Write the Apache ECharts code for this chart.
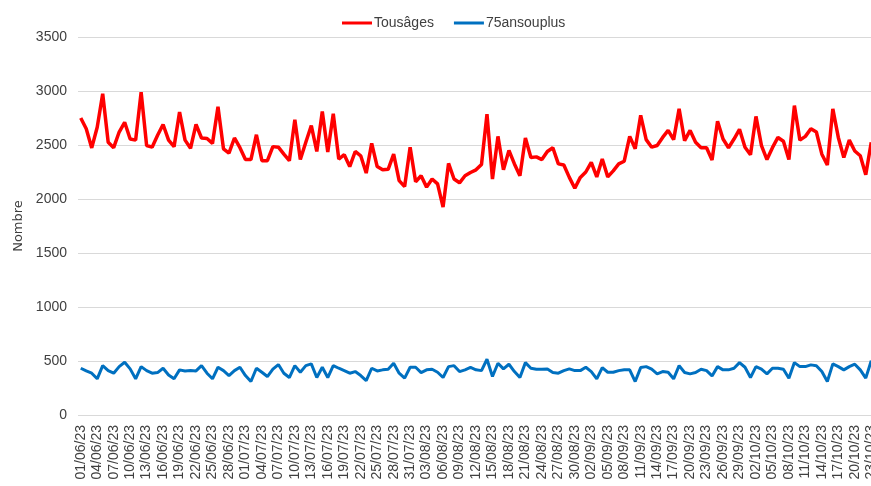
<!DOCTYPE html>
<html>
<head>
<meta charset="utf-8">
<script src="https://cdn.jsdelivr.net/npm/echarts@6/dist/echarts.min.js"></script>
<style>
  html, body { margin: 0; padding: 0; background: #fff; }
  #chart { width: 871px; height: 486px; }
</style>
</head>
<body>
<div id="chart"></div>
<script>
var myChart = echarts.init(document.getElementById('chart'));

// jours du 01/06/23 au 23/10/23
var firstDay = new Date(2023, 5, 1);
var nbDays = 145;
var dates = [];
for (var d = 0; d < nbDays; d++) {
    var dt = new Date(firstDay.getFullYear(), firstDay.getMonth(), firstDay.getDate() + d);
    var dd = ('0' + dt.getDate()).slice(-2);
    var mm = ('0' + (dt.getMonth() + 1)).slice(-2);
    dates.push(dd + '/' + mm + '/23');
}

var tousAges = [
    2750, 2650, 2473, 2665, 2975, 2525, 2475, 2620, 2710, 2555,
    2545, 2990, 2495, 2480, 2590, 2690, 2545, 2485, 2805, 2545,
    2470, 2690, 2565, 2560, 2515, 2855, 2465, 2425, 2565, 2475,
    2365, 2365, 2595, 2355, 2355, 2485, 2480, 2415, 2355, 2735,
    2365, 2525, 2680, 2440, 2810, 2435, 2790, 2370, 2410, 2300,
    2440, 2400, 2240, 2515, 2300, 2270, 2275, 2415, 2170, 2115,
    2480, 2160, 2215, 2110, 2185, 2140, 1925, 2330, 2185, 2150,
    2215, 2245, 2270, 2320, 2785, 2185, 2580, 2270, 2450, 2325,
    2215, 2565, 2385, 2390, 2365, 2440, 2475, 2325, 2315, 2200,
    2100, 2200, 2250, 2340, 2205, 2370, 2205, 2260, 2325, 2350,
    2580, 2465, 2775, 2550, 2480, 2495, 2570, 2635, 2550, 2835,
    2540, 2635, 2525, 2475, 2475, 2360, 2720, 2555, 2475, 2555,
    2645, 2480, 2410, 2765, 2495, 2365, 2475, 2570, 2535, 2365,
    2865, 2545, 2580, 2650, 2620, 2415, 2315, 2835, 2570, 2385,
    2545, 2445, 2400, 2225, 2525
];

var ansOuPlus75 = [
    433, 408, 387, 335, 457, 411, 387, 448, 488, 427,
    335, 448, 411, 387, 393, 433, 371, 335, 418, 408,
    411, 408, 457, 387, 335, 442, 411, 365, 411, 442,
    365, 310, 433, 396, 356, 424, 467, 387, 347, 457,
    396, 457, 473, 347, 442, 347, 457, 433, 411, 387,
    402, 365, 319, 433, 408, 418, 424, 479, 387, 341,
    442, 442, 393, 418, 424, 396, 347, 448, 457, 402,
    418, 440, 418, 411, 516, 356, 479, 427, 470, 402,
    347, 485, 433, 424, 424, 427, 393, 387, 411, 427,
    411, 411, 442, 402, 335, 439, 396, 396, 411, 418,
    418, 310, 439, 448, 424, 381, 402, 396, 335, 457,
    393, 381, 393, 424, 411, 362, 448, 418, 418, 433,
    485, 442, 347, 448, 424, 381, 433, 433, 424, 341,
    485, 448, 448, 464, 457, 402, 310, 473, 448, 418,
    448, 470, 418, 341, 503
];

var seriesNames = ['Tousâges', '75ansouplus'];
var seriesColors = ['#ff0000', '#0070c0'];

var option = {
    animation: false,
    backgroundColor: '#ffffff',
    textStyle: { fontFamily: 'Liberation Sans' },
    legend: {
        top: 11,
        left: 337,
        itemWidth: 30,
        itemHeight: 3,
        itemGap: 20,
        icon: 'rect',
        textStyle: { color: '#404040', fontSize: 14, fontFamily: 'Liberation Sans', padding: [0, 0, 0, -3] },
        data: seriesNames
    },
    grid: {
        left: 78,
        right: -3,
        top: 37,
        bottom: 71,
        containLabel: false,
        outerBoundsMode: 'none'
    },
    xAxis: {
        type: 'category',
        data: dates,
        boundaryGap: true,
        axisLine: { show: false },
        axisTick: { show: false },
        axisLabel: {
            interval: 2,
            rotate: 90,
            color: '#404040',
            fontSize: 14,
            margin: 10
        }
    },
    yAxis: {
        type: 'value',
        min: 0,
        max: 3500,
        interval: 500,
        name: 'Nombre',
        nameLocation: 'middle',
        nameGap: 53,
        nameTextStyle: { color: '#404040', fontSize: 13, fontFamily: 'DejaVu Sans' },
        axisLine: { show: false },
        axisTick: { show: false },
        axisLabel: {
            color: '#404040',
            fontSize: 14,
            margin: 11,
            formatter: function (v) { return String(v); }
        },
        splitLine: { lineStyle: { color: '#d9d9d9', width: 1 } }
    },
    series: [
        {
            name: seriesNames[0],
            type: 'line',
            data: tousAges,
            symbol: 'none',
            color: seriesColors[0],
            lineStyle: { width: 3.5, color: seriesColors[0] }
        },
        {
            name: seriesNames[1],
            type: 'line',
            data: ansOuPlus75,
            symbol: 'none',
            color: seriesColors[1],
            lineStyle: { width: 3, color: seriesColors[1] }
        }
    ]
};

myChart.setOption(option);
</script>
</body>
</html>
